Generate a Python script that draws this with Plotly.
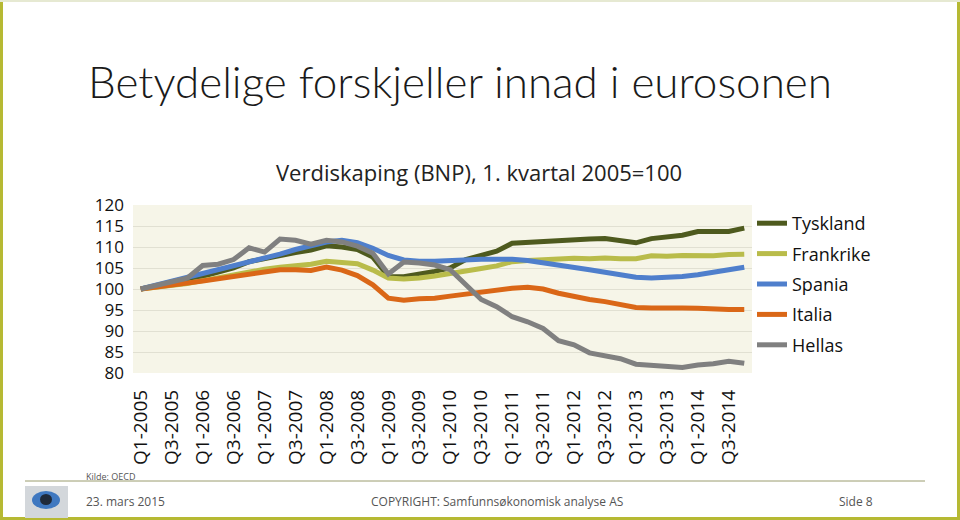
import plotly.graph_objects as go

years = list(range(2005, 2015))
quarters = [f"Q{q}-{y}" for y in years for q in range(1, 5)]

tyskland = [100, 100.8, 101.5, 102.0, 103.0, 104.0, 105.0, 106.5, 107.3, 107.8,
            108.7, 109.3, 110.3, 110.0, 109.4, 107.6, 103.0, 102.9, 103.4, 104.2,
            105.0, 107.0, 108.0, 109.0, 110.9, 111.1, 111.5, 111.5, 111.8, 111.9,
            112.0, 111.5, 111.0, 112.0, 112.3, 112.8, 113.7, 113.6, 113.7, 114.5]
frankrike = [100, 100.4, 100.9, 101.3, 102.0, 102.7, 103.3, 104.2, 104.7, 105.2,
             105.6, 105.9, 106.6, 106.2, 106.0, 104.5, 102.6, 102.4, 102.6, 103.1,
             103.6, 104.3, 104.9, 105.5, 106.5, 106.8, 107.0, 107.2, 107.3, 107.2,
             107.4, 107.2, 107.2, 107.9, 107.8, 108.0, 108.0, 107.9, 108.2, 108.3]
spania = [100, 100.9, 101.8, 102.8, 103.7, 104.6, 105.5, 106.4, 107.3, 108.3,
          109.4, 110.3, 111.2, 111.6, 111.0, 109.7, 108.0, 106.9, 106.6, 106.6,
          106.8, 107.0, 107.1, 107.1, 107.1, 106.8, 106.3, 105.8, 105.2, 104.6,
          104.0, 103.3, 102.8, 102.6, 102.7, 103.0, 103.4, 103.9, 104.5, 105.2]
italia = [100, 100.4, 100.9, 101.4, 101.9, 102.5, 103.0, 103.4, 104.2, 104.6,
          104.6, 104.4, 105.2, 104.5, 103.2, 101.0, 97.8, 97.3, 97.7, 97.8,
          98.3, 98.8, 99.5, 99.9, 100.2, 100.4, 100.0, 99.0, 98.2, 97.5,
          97.0, 96.4, 95.6, 95.5, 95.6, 95.5, 95.4, 95.2, 95.1, 95.1]
hellas = [100, 100.9, 101.8, 102.6, 105.6, 105.9, 107.0, 109.8, 108.8, 111.9,
          111.6, 110.7, 111.6, 111.2, 110.2, 108.5, 103.6, 106.4, 106.2, 105.7,
          104.6, 101.0, 97.5, 95.8, 93.4, 92.2, 90.6, 87.7, 86.7, 84.8,
          84.0, 83.4, 82.1, 81.8, 81.5, 81.3, 81.9, 82.2, 82.8, 82.3]

series = [
    ("Tyskland", tyskland, "#4E5A1E"),
    ("Frankrike", frankrike, "#B9BC4A"),
    ("Spania", spania, "#4F7FCC"),
    ("Italia", italia, "#DA6717"),
    ("Hellas", hellas, "#808080"),
]

W, H = 960, 520
L, R, T, B = 133, 752, 205, 373
FONT = "Open Sans"


def px(x):
    return (x - L) / (R - L)


def py(y):
    return (B - y) / (B - T)


fig = go.Figure()
for name, vals, color in series:
    fig.add_trace(go.Scatter(
        x=quarters, y=vals, name=name, mode="lines",
        legendgroup=name,
        line=dict(color=color, width=5),
    ))

shapes = [
    # slide border
    dict(type="rect", x0=px(0), x1=px(3), y0=py(520), y1=py(0), fillcolor="#B6B933"),
    dict(type="rect", x0=px(957), x1=px(960), y0=py(520), y1=py(0), fillcolor="#B6B933"),
    dict(type="rect", x0=px(0), x1=px(960), y0=py(520), y1=py(517), fillcolor="#B6B933"),
    dict(type="rect", x0=px(0), x1=px(960), y0=py(2), y1=py(0), fillcolor="#E6E9D2"),
    # footer rule
    dict(type="line", x0=px(25), x1=px(925), y0=py(481), y1=py(481),
         line=dict(color="#9A9C6E", width=1)),
    # logo
    dict(type="rect", x0=px(25), x1=px(68), y0=py(518), y1=py(486), fillcolor="#D3D7DB"),
    dict(type="circle", x0=px(32), x1=px(60), y0=py(509), y1=py(491), fillcolor="#3F78C0"),
    dict(type="circle", x0=px(40), x1=px(52), y0=py(505), y1=py(494), fillcolor="#1F2A3A"),
]
for s in shapes:
    s.update(xref="paper", yref="paper", layer="above")
    if s["type"] != "line":
        s["line"] = dict(width=0)

annotations = [
    dict(text="Betydelige forskjeller innad i eurosonen", x=px(86), y=py(81),
         xanchor="left", yanchor="middle",
         font=dict(family="Lato", size=44, weight=300, color="#1A1A1A")),
    dict(text="Verdiskaping (BNP), 1. kvartal 2005=100", x=px(479), y=py(172),
         xanchor="center", yanchor="middle", font=dict(family=FONT, size=22, color="#222222")),
    dict(text="Kilde: OECD", x=px(84), y=py(476), xanchor="left", yanchor="middle",
         font=dict(family=FONT, size=9, color="#555555")),
    dict(text="23. mars 2015", x=px(84), y=py(501), xanchor="left", yanchor="middle",
         font=dict(family=FONT, size=12, color="#555555")),
    dict(text="COPYRIGHT: Samfunnsøkonomisk analyse AS", x=px(497), y=py(501),
         xanchor="center", yanchor="middle", font=dict(family=FONT, size=12, color="#555555")),
    dict(text="Side 8", x=px(875), y=py(501), xanchor="right", yanchor="middle",
         font=dict(family=FONT, size=12, color="#555555")),
]
for a in annotations:
    a.update(xref="paper", yref="paper", showarrow=False)

fig.update_layout(
    width=W, height=H,
    margin=dict(l=L, r=W - R, t=T, b=H - B, pad=0),
    paper_bgcolor="white",
    plot_bgcolor="#F6F5E8",
    font=dict(family=FONT, color="#111111"),
    showlegend=True,
    legend=dict(
        xref="container", yref="container",
        x=752 / W, y=1 - 205 / H, xanchor="left", yanchor="top",
        font=dict(family=FONT, size=18, color="#111111"),
        tracegroupgap=4, bgcolor="rgba(0,0,0,0)",
    ),
    xaxis=dict(
        type="category", range=[-0.5, 39.5], automargin=False,
        tickmode="array", tickvals=quarters[::2], tickangle=-90,
        tickfont=dict(family=FONT, size=19, color="#111111"),
        showgrid=False, zeroline=False, ticks="", showline=False,
        ticklabelstandoff=12,
    ),
    yaxis=dict(
        range=[80, 120], dtick=5, automargin=False,
        tickfont=dict(family=FONT, size=17, color="#111111"),
        gridcolor="#E1E0D2", gridwidth=1, zeroline=False, ticks="", showline=False,
        ticklabelstandoff=8,
    ),
    shapes=shapes,
    annotations=annotations,
)

fig.write_html("out.html", config={"displayModeBar": False},
               post_script="document.body.style.margin='0px';")
